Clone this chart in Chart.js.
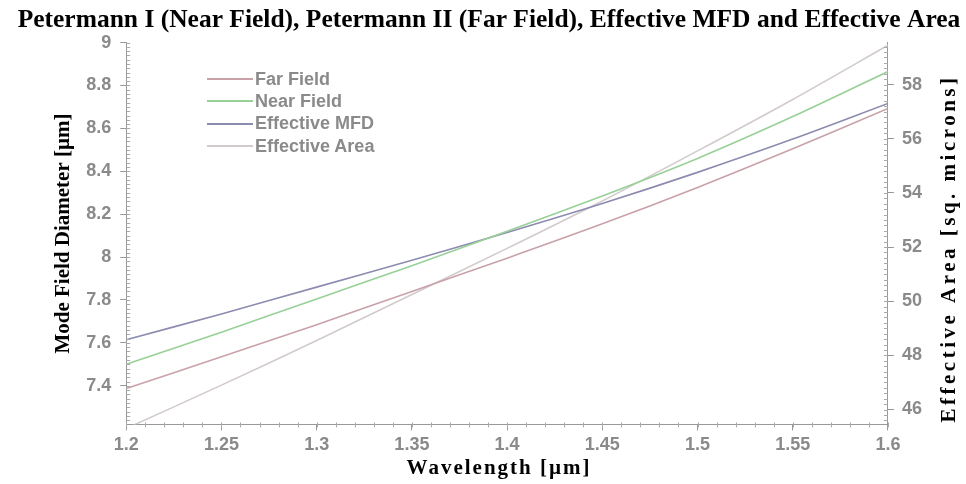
<!DOCTYPE html>
<html>
<head>
<meta charset="utf-8">
<script src="https://cdn.jsdelivr.net/npm/chart.js@4.4.0/dist/chart.umd.min.js"></script>
<style>
  html, body { margin: 0; padding: 0; background: #fff; }
  #wrap { position: relative; width: 966px; height: 484px; }
  #legend { position: absolute; left: 207px; top: 68px; font: bold 18px "Liberation Sans", Arial, sans-serif; color: #8a8a8a; }
  .row { display: flex; align-items: center; height: 22.3px; }
  .swatch { width: 46px; height: 0; border-top: 2px solid; margin-right: 2px; }
</style>
</head>
<body>
<div id="wrap">
  <canvas id="chart" width="966" height="484"></canvas>
  <div id="legend"></div>
</div>
<script>
// wavelength in um
const wavelengths = [1.2, 1.25, 1.3, 1.35, 1.4, 1.45, 1.5, 1.55, 1.6];
// mode field diameters, um (left axis)
const farField  = [7.387, 7.535, 7.685, 7.84, 7.995, 8.155, 8.325, 8.505, 8.693];
const nearField = [7.50, 7.65, 7.805, 7.96, 8.12, 8.285, 8.46, 8.655, 8.865];
const effMFD    = [7.615, 7.735, 7.86, 7.985, 8.115, 8.25, 8.395, 8.55, 8.716];
// effective area, sq. microns (right axis)
const effArea   = [45.3, 46.9, 48.55, 50.25, 51.95, 53.7, 55.55, 57.45, 59.45];

const seriesNames  = ['Far Field', 'Near Field', 'Effective MFD', 'Effective Area'];
const seriesColors = ['#c8a2a8', '#98d098', '#8c8cb0', '#d2cacd'];

const titleText = 'Petermann I (Near Field), Petermann II (Far Field), Effective MFD and Effective Area';
const leftTitle = 'Mode Field Diameter [µm]';
const rightTitle = 'Effective Area [sq. microns]';
const xTitle = 'Wavelength [µm]';

const serif = '"Liberation Serif", "Times New Roman", serif';
const sans = '"Liberation Sans", Arial, sans-serif';

const pts = arr => wavelengths.map((w, i) => ({ x: w, y: arr[i] }));
const shortNum = v => String(+v.toFixed(2));

// minor ticks along the three axes, plus the letter-spaced axis titles
const minorTicks = {
  id: 'minorTicks',
  afterDraw(chart) {
    const { ctx, scales } = chart;
    const ca = chart.chartArea;
    ctx.save();
    ctx.strokeStyle = '#aaa';
    ctx.lineWidth = 1;
    ctx.beginPath();
    const sx = scales.x;
    for (let k = 0; k <= 40; k++) {
      const px = Math.round(sx.getPixelForValue(1.2 + k * 0.01)) + 0.5;
      ctx.moveTo(px, sx.top - 2); ctx.lineTo(px, sx.top + 3);
    }
    const sy = scales.y;
    for (let v = 7.24; v <= 9.0001; v += 0.02) {
      const py = Math.round(sy.getPixelForValue(v)) + 0.5;
      ctx.moveTo(sy.right, py); ctx.lineTo(sy.right + 4, py);
    }
    const s2 = scales.y2;
    for (let v = 45.6; v <= 59.5; v += 0.2) {
      const py = Math.round(s2.getPixelForValue(v)) + 0.5;
      ctx.moveTo(s2.left - 4, py); ctx.lineTo(s2.left, py);
    }
    ctx.stroke();

    ctx.fillStyle = '#000';
    ctx.textAlign = 'center';
    ctx.textBaseline = 'middle';
    ctx.font = 'bold 21px ' + serif;

    // x axis title
    ctx.letterSpacing = '2px';
    ctx.fillText(xTitle, (ca.left + ca.right) / 2 - 8, 469);

    // right axis title, reading bottom to top
    ctx.letterSpacing = '3.5px';
    ctx.translate(950, (ca.top + ca.bottom) / 2 + 15);
    ctx.rotate(-Math.PI / 2);
    ctx.fillText(rightTitle, 0, 0);
    ctx.restore();
  }
};

const tickFont = { family: sans, size: 18, weight: 'bold' };
const tickColor = '#8a8a8a';
const axisColor = '#999';

new Chart(document.getElementById('chart'), {
  type: 'line',
  data: {
    datasets: [
      { label: seriesNames[0], data: pts(farField),  yAxisID: 'y',  borderColor: seriesColors[0] },
      { label: seriesNames[1], data: pts(nearField), yAxisID: 'y',  borderColor: seriesColors[1] },
      { label: seriesNames[2], data: pts(effMFD),    yAxisID: 'y',  borderColor: seriesColors[2] },
      { label: seriesNames[3], data: pts(effArea),   yAxisID: 'y2', borderColor: seriesColors[3] },
    ],
  },
  options: {
    responsive: false,
    animation: false,
    layout: { padding: { left: 12, right: 0, top: 0, bottom: 24 } },
    elements: {
      line: { borderWidth: 1.6, tension: 0.3, fill: false },
      point: { radius: 0 },
    },
    plugins: {
      legend: { display: false },
      tooltip: { enabled: false },
      title: {
        display: true,
        text: titleText,
        color: '#000',
        font: { family: serif, size: 25.5, weight: 'bold' },
        padding: { top: 5, bottom: 7 },
      },
    },
    scales: {
      x: {
        type: 'linear',
        min: 1.2,
        max: 1.6,
        ticks: { stepSize: 0.05, font: tickFont, color: tickColor, padding: 4, callback: shortNum },
        grid: { drawOnChartArea: false, color: axisColor, tickLength: 6 },
        border: { color: axisColor },
      },
      y: {
        position: 'left',
        min: 7.22,
        max: 9.0,
        ticks: { stepSize: 0.2, includeBounds: false, font: tickFont, color: tickColor, padding: 9, callback: shortNum },
        grid: { drawOnChartArea: false, color: axisColor, tickLength: 6 },
        border: { color: axisColor },
        title: { display: true, text: leftTitle, color: '#000', font: { family: serif, size: 21, weight: 'bold' }, padding: { top: 39, bottom: 1 } },
      },
      y2: {
        position: 'right',
        min: 45.45,
        max: 59.55,
        ticks: { stepSize: 2, includeBounds: false, font: tickFont, color: tickColor, padding: 8, callback: shortNum },
        grid: { drawOnChartArea: false, color: axisColor, tickLength: 6 },
        border: { color: axisColor },
        // room for the right-hand title drawn by the plugin
        afterFit(scale) { scale.width += 36; },
      },
    },
  },
  plugins: [minorTicks],
});

// legend overlay
const legend = document.getElementById('legend');
seriesNames.forEach((name, i) => {
  const row = document.createElement('div');
  row.className = 'row';
  const sw = document.createElement('span');
  sw.className = 'swatch';
  sw.style.borderColor = seriesColors[i];
  const label = document.createElement('span');
  label.textContent = name;
  row.appendChild(sw);
  row.appendChild(label);
  legend.appendChild(row);
});
</script>
</body>
</html>
